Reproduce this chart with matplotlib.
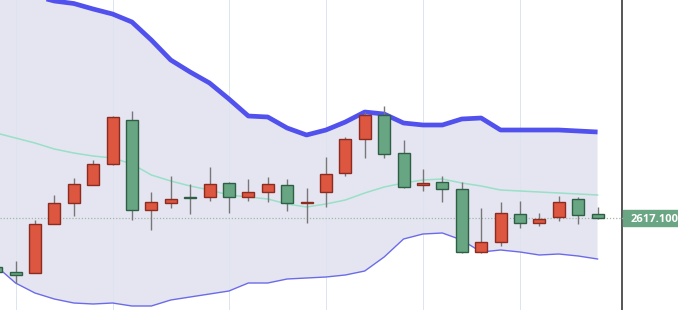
import matplotlib
matplotlib.use("Agg")
import matplotlib.pyplot as plt
import numpy as np

# ---- data (candle index, OHLC, bands) ----
idx = list(range(-1, 31))
opens = [2568.1, 2563.1, 2562.1, 2611.1, 2632.1, 2650.1, 2671.1, 2715.1, 2625.1, 2632.1,
         2638.1, 2638.1, 2652.1, 2638.1, 2643.1, 2650.1, 2632.1, 2643.1, 2662.1, 2696.1,
         2720.1, 2682.1, 2650.1, 2653.1, 2646.1, 2583.1, 2593.1, 2621.1, 2612.1, 2618.1,
         2636.1, 2621.1]
highs = [2572.1, 2574.1, 2615.1, 2640.1, 2657.1, 2675.1, 2719.1, 2724.1, 2643.1, 2659.1,
         2651.1, 2668.1, 2653.1, 2656.1, 2658.1, 2656.1, 2647.1, 2678.1, 2698.1, 2723.1,
         2729.1, 2695.1, 2666.1, 2659.1, 2653.1, 2627.1, 2633.1, 2634.1, 2622.1, 2639.1,
         2638.1, 2628.1]
lows = [2559.1, 2552.1, 2562.1, 2611.1, 2619.1, 2650.1, 2670.1, 2615.1, 2605.1, 2627.1,
        2621.1, 2634.1, 2622.1, 2634.1, 2633.1, 2624.1, 2612.1, 2628.1, 2659.1, 2677.1,
        2677.1, 2647.1, 2644.1, 2633.1, 2582.1, 2582.1, 2589.1, 2607.1, 2609.1, 2614.1,
        2611.1, 2616.1]
closes = [2563.1, 2560.1, 2611.1, 2632.1, 2651.1, 2671.1, 2718.1, 2625.1, 2633.1, 2636.1,
          2637.1, 2651.1, 2638.1, 2643.1, 2651.1, 2632.1, 2633.1, 2661.1, 2696.1, 2720.1,
          2681.1, 2648.1, 2652.1, 2646.1, 2583.1, 2593.1, 2622.1, 2612.1, 2616.1, 2633.1,
          2620.1, 2617.1]
upper = [2853.1, 2845.1, 2839.1, 2834.1, 2831.6, 2826.1, 2821.1, 2813.1, 2795.1, 2775.1,
         2763.1, 2752.1, 2736.1, 2719.1, 2718.1, 2707.1, 2700.1, 2705.1, 2713.1, 2723.1,
         2721.1, 2712.1, 2710.1, 2710.1, 2716.1, 2717.1, 2705.1, 2705.1, 2705.1, 2705.1,
         2704.1, 2703.1]
middle = [2702.1, 2697.1, 2692.1, 2686.1, 2682.1, 2679.1, 2677.1, 2671.1, 2660.1, 2654.1,
          2649.1, 2645.1, 2640.1, 2638.1, 2636.1, 2631.1, 2628.1, 2631.1, 2635.1, 2642.1,
          2648.1, 2652.1, 2655.1, 2656.1, 2652.1, 2649.1, 2645.1, 2644.1, 2643.1, 2642.1,
          2641.1, 2640.1]
lower = [2569.1, 2552.1, 2542.1, 2536.1, 2532.1, 2531.1, 2532.1, 2529.1, 2529.1, 2535.1,
         2538.1, 2541.1, 2544.1, 2552.1, 2552.1, 2556.1, 2557.1, 2558.1, 2560.1, 2564.1,
         2578.1, 2596.1, 2601.1, 2602.1, 2595.1, 2583.1, 2585.1, 2583.1, 2580.1, 2581.1,
         2579.1, 2576.1]
grid_idx = [0, 5, 11, 16, 21, 26]
last_price = 2617.10
last_label = "2617.100"

# ---- figure ----
W, H = 678, 310
fig = plt.figure(figsize=(W / 100, H / 100), dpi=100)
ax_right = 622 / W
ax = fig.add_axes([0, 0, ax_right, 1])
ax.set_xlim(-0.80, 31.26)
ax.set_ylim(2525.1, 2835.1)

x = np.array(idx, dtype=float)
ax.fill_between(x, lower, upper, color="#e5e5f1", zorder=0, linewidth=0)

for g in grid_idx:
    ax.axvline(g, color="#dbe4ef", linewidth=0.7, zorder=0.5)

ax.plot(x, middle, color="#98e0c6", linewidth=1.1, zorder=1)
ax.plot(x, lower, color="#6b6bea", linewidth=1.0, zorder=1)
ax.plot(x, upper, color="#5151ee", linewidth=3.4, zorder=1,
        solid_capstyle="butt", solid_joinstyle="round")

ax.axhline(last_price, color="#9fb8a8", linewidth=0.9, linestyle=(0, (1, 1.5)), zorder=1.5)

o = np.array(opens); c = np.array(closes); hi = np.array(highs); lo = np.array(lows)
up = c >= o
face = np.where(up, "#dc5640", "#68a582")
edge = np.where(up, "#8a2d20", "#2f5e47")
ax.vlines(x, lo, hi, color="#777777", linewidth=1.0, zorder=2)
bottoms = np.minimum(o, c)
heights = np.maximum(np.abs(c - o), 0.6)
ax.bar(x, heights, bottom=bottoms, width=0.62, color=face, edgecolor=edge,
       linewidth=1.0, zorder=3)

for s in ["top", "left", "bottom"]:
    ax.spines[s].set_visible(False)
ax.spines["right"].set_color("#555555")
ax.spines["right"].set_linewidth(1.4)
ax.set_xticks([]); ax.set_yticks([])

# last price label outside axes
ypos = (last_price - 2525.1) / (2835.1 - 2525.1)
fig.add_artist(plt.Line2D([ax_right, 627 / W], [ypos, ypos], color="#9fb8a8",
                          linewidth=0.9, transform=fig.transFigure))
fig.add_artist(plt.Rectangle((623 / W, ypos - 8 / H), 60 / W, 16 / H,
                             transform=fig.transFigure, color="#6aa584", zorder=5))
fig.text(631 / W, ypos - 1 / H, last_label, color="white", fontsize=8,
         fontweight="bold", family=["Open Sans", "DejaVu Sans"],
         va="center", ha="left", zorder=6)

fig.savefig("out.png", dpi=100)
